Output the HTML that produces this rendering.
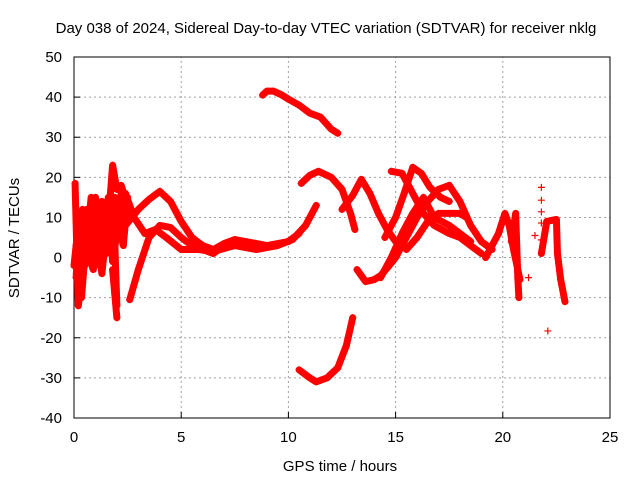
<!DOCTYPE html>
<html><head><meta charset="utf-8"><style>
body{margin:0;background:#fff;}
svg{display:block;font-family:"Liberation Sans",sans-serif;}
</style></head><body>
<svg id="chart" width="640" height="480" viewBox="0 0 640 480" xmlns="http://www.w3.org/2000/svg">
<rect width="640" height="480" fill="#fff"/>
<text x="326" y="33" font-size="15" text-anchor="middle">Day 038 of 2024, Sidereal Day-to-day VTEC variation (SDTVAR) for receiver nklg</text>
<g id="grid"></g>
<g id="axes"></g>
<g id="series"></g>
<text x="340" y="471" font-size="15" text-anchor="middle">GPS time / hours</text>
<text transform="translate(19,238) rotate(-90)" font-size="15" text-anchor="middle">SDTVAR / TECUs</text>
</svg>
<script>
const xTicks=[0,5,10,15,20,25];
const yTicks=[-40,-30,-20,-10,0,10,20,30,40,50];
const trackA=[[8.8,40.5],[9,41.5],[9.3,41.5],[9.7,40.5],[10,39.5],[10.5,38],[11,36],[11.5,35],[12,32],[12.3,31]];
const trackB=[[10.5,-28],[11,-30],[11.3,-31],[11.8,-30],[12.3,-27.5],[12.7,-22],[13,-15]];
const trackC=[[10.6,18.5],[11,20.5],[11.4,21.5],[12,20],[12.5,17],[12.9,11],[13.1,7]];
const trackC2=[[12.5,12],[13,15.5],[13.4,19.5],[13.8,16],[14.2,11],[14.6,7],[15,4]];
const trackD=[[13.2,-3],[13.6,-6],[14,-5.5],[14.3,-4.5],[14.7,-2],[15,0],[15.5,5],[16,10],[16.5,14],[17,17],[17.5,18],[18,14],[18.5,8],[19,4],[19.5,2]];
const trackE=[[14.8,21.5],[15.3,21],[15.8,16],[16.3,11],[16.8,8],[17.5,6],[18,5],[18.5,3],[19,1]];
const trackF=[[14.5,5],[15,10],[15.4,16],[15.8,22.5],[16.2,21],[16.6,17.5],[17.1,15],[17.5,14]];
const trackF2=[[14.3,-5],[14.8,0],[15.3,6],[15.8,11],[16.3,15],[16.8,10],[17.5,8],[18,6],[18.5,4]];
const trackG=[[15.5,2],[16,5],[16.5,9],[17,11],[17.5,11],[18,11],[18.3,10]];
const trackH=[[2.6,-10.5],[3,-3],[3.5,5],[4,8],[4.5,7.5],[5,5],[5.5,3],[6,2],[6.5,1],[7,3],[8,4],[9,3],[10,4],[10.5,6]];
const trackI=[[2.4,8],[3,12],[3.5,14.5],[4,16.5],[4.5,14],[5,9],[5.5,5],[6,3],[6.5,2],[7,3.5],[7.5,4.5],[8,4],[8.5,3]];
const trackJ=[[2.4,16],[2.8,10],[3.3,6],[3.8,7],[4.3,5],[5,2],[5.8,2],[6.5,1.5],[7.5,3],[8.5,2],[9.5,3],[10.2,4.5],[10.8,8],[11.3,13]];
const trackK=[[0.1,-5],[0.2,5],[0.35,-10],[0.5,0],[0.7,10],[0.9,14],[1.1,4],[1.3,-4],[1.5,6],[1.7,14],[1.9,4],[2.0,-12]];
const trackL=[[0,-2],[0.2,8],[0.4,12],[0.6,4],[0.8,15],[1,10],[1.2,-2],[1.4,13],[1.6,9],[1.8,23],[2,17],[2.2,18],[2.5,13]];
const trackP=[[0.1,3],[0.3,-4],[0.5,6],[0.7,0],[0.9,-3],[1.1,9],[1.3,14],[1.5,1],[1.7,5],[1.9,12],[2.1,8],[2.3,3],[2.5,15]];
const trackQ=[[0.05,18.5],[0.2,-12],[0.4,-5],[0.6,12],[0.8,5],[1,15],[1.2,8],[1.4,3],[1.6,15],[1.8,-1],[2.0,6],[2.2,16]];
const trackS=[[0.1,10],[0.3,2],[0.5,10],[0.7,5],[0.9,8],[1.1,12],[1.3,6],[1.5,10],[1.7,2],[1.9,15],[2.1,12],[2.3,9]];
const trackT=[[0.1,0],[0.3,6],[0.5,-2],[0.7,3],[0.9,10],[1.1,-1],[1.3,10],[1.5,12],[1.7,8],[1.9,9],[2.1,14],[2.3,12]];
const trackR=[[1.8,-3],[1.9,-9],[2.0,-15]];
const trackM=[[19.2,0],[19.5,3],[19.8,6],[20.1,11],[20.3,8],[20.5,2],[20.8,-5.5]];
const trackN=[[20.4,4],[20.6,11],[20.65,3],[20.7,-5],[20.75,-10]];
const trackO=[[21.8,1],[22.05,9],[22.5,9.5],[22.55,1],[22.7,-5.5],[22.9,-11]];
const lone=[[21.5,5.5],[21.8,17.5],[21.8,14.3],[21.8,11.4],[21.8,8.6],[21.8,4.4],[22.1,-18.3],[21.2,-5]];
const tracks=[trackA,trackB,trackC,trackC2,trackD,trackE,trackF,trackF2,trackG,trackH,trackI,trackJ,trackK,trackL,trackP,trackQ,trackS,trackT,trackR,trackM,trackN,trackO];

const X0=74,X1=610,Y0=418,Y1=57;
const xs=v=>X0+(v-0)/25*(X1-X0);
const ys=v=>Y0-(v+40)/90*(Y0-Y1);
const NS='http://www.w3.org/2000/svg';
const mk=(t,a,p)=>{const e=document.createElementNS(NS,t);for(const k in a)e.setAttribute(k,a[k]);p.appendChild(e);return e;};
const grid=document.getElementById('grid'),axes=document.getElementById('axes'),ser=document.getElementById('series');
xTicks.forEach(t=>{
  const g=mk('line',{x1:xs(t),x2:xs(t),y1:Y0,y2:Y1,stroke:'#a0a0a0','stroke-dasharray':'2,3'},grid);
  
  
  mk('line',{x1:xs(t),x2:xs(t),y1:Y0,y2:Y0-6,stroke:'#000'},axes);
  const l=mk('text',{x:xs(t),y:Y0+24,'font-size':15,'text-anchor':'middle'},axes);l.textContent=t;
  
  
});
yTicks.forEach(t=>{
  const g=mk('line',{x1:X0,x2:X1,y1:ys(t),y2:ys(t),stroke:'#a0a0a0','stroke-dasharray':'2,3'},grid);
  
  
  mk('line',{x1:X0,x2:X0+6,y1:ys(t),y2:ys(t),stroke:'#000'},axes);
  const l=mk('text',{x:X0-12,y:ys(t)+5,'font-size':15,'text-anchor':'end'},axes);l.textContent=t;
  
  
});
const fr=mk('rect',{x:X0,y:Y1,width:X1-X0,height:Y0-Y1,fill:'none',stroke:'#000'},axes);


const plus=(x,y)=>{mk('path',{d:`M${x-3.5},${y}h7M${x},${y-3.5}v7`,stroke:'#f00','stroke-width':1.2},ser);};
tracks.forEach(tr=>{
  const p=mk('polyline',{points:tr.map(d=>xs(d[0])+','+ys(d[1])).join(' '),fill:'none',stroke:'#f00','stroke-width':7,'stroke-linejoin':'round','stroke-linecap':'round'},ser);
  
  
  tr.forEach(d=>plus(xs(d[0]),ys(d[1])));
});
lone.forEach(d=>plus(xs(d[0]),ys(d[1])));
</script>
</body></html>
